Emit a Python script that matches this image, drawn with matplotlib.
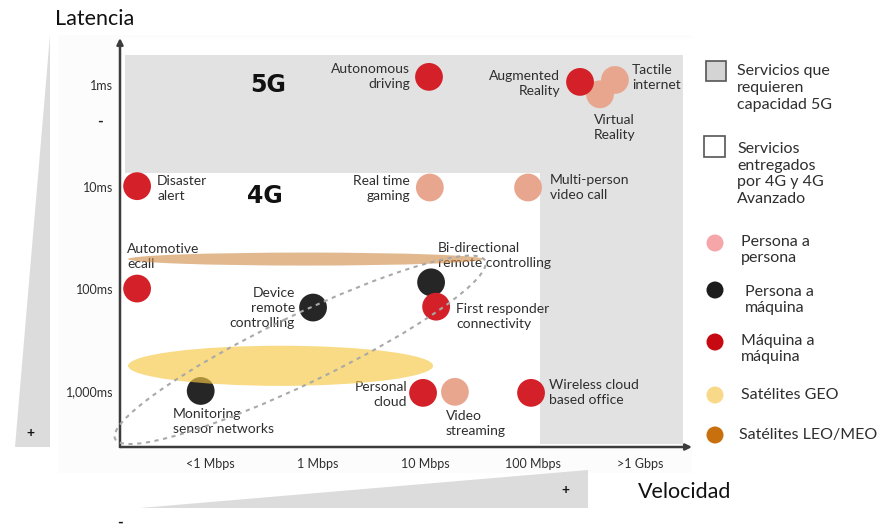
import matplotlib
matplotlib.use("Agg")
import matplotlib.pyplot as plt
import numpy as np
from matplotlib.patches import Ellipse, Polygon, Rectangle, Circle
from matplotlib.ticker import NullLocator

plt.rcParams['font.family'] = ['Lato', 'DejaVu Sans']

# ---------------- data ----------------
services = ["Autonomous\ndriving", "Virtual\nReality", "Augmented\nReality", "Tactile\ninternet",
            "Disaster\nalert", "Real time\ngaming", "Multi-person\nvideo call",
            "Automotive\necall", "Device\nremote\ncontrolling", "Bi-directional\nremote controlling",
            "First responder\nconnectivity", "Monitoring\nsensor networks",
            "Personal\ncloud", "Video\nstreaming", "Wireless cloud\nbased office"]
speed_mbps = [10.9, 425, 277, 585, 0.021, 11.1, 91, 0.021, 0.91, 11.4, 12.7, 0.082, 9.6, 19, 97]
latency_ms = [0.83, 1.23, 0.93, 0.89, 9.8, 10.1, 10.1, 99, 152, 86, 149, 1000, 1044, 1020, 1044]
category = ["M2M", "P2P", "M2M", "P2P", "M2M", "P2P", "P2P", "M2M", "P2M", "P2M",
            "M2M", "P2M", "M2M", "P2P", "M2M"]

speed_ticks = [0.1, 1, 10, 100, 1000]
speed_labels = ["<1 Mbps", "1 Mbps", "10 Mbps", "100 Mbps", ">1 Gbps"]
latency_ticks = [1, 10, 100, 1000]
latency_labels = ["1ms", "10ms", "100ms", "1,000ms"]

# 5G-only region (grey): latency below threshold or speed above threshold
fiveg_speed_range = [0.0162, 2520]
fiveg_latency_range = [0.507, 3310]
fiveg_speed_threshold = 117
fiveg_latency_threshold = 7.2

# satellite bands (speed range Mbps, latency range ms)
geo_speed = [0.0173, 11.9]
geo_latency = [360, 891]
leo_speed = [0.0173, 34.7]
leo_latency = [43.9, 58.9]

# 4G envelope (log-space ellipse): centre speed/latency
env_center_speed = 0.69
env_center_latency = 395

legend_labels = ["Servicios que\nrequieren\ncapacidad 5G",
                 "Servicios\nentregados\npor 4G y 4G\nAvanzado",
                 "Persona a\npersona", "Persona a\nmáquina", "Máquina a\nmáquina",
                 "Satélites GEO", "Satélites LEO/MEO"]

# ---------------- styles ----------------
cat_color = {"M2M": "#D42129", "P2P": "#E9A68E", "P2M": "#262626"}
# label offsets in pixels (dx, dy) and alignment
label_layout = [(-19, 0, 'right'), (-6, -33, 'left'), (-20, -2, 'right'), (17, 2, 'left'),
                (20, -2, 'left'), (-20, -1, 'right'), (22, 0, 'left'),
                (-10, 32, 'left'), (-18, 0, 'right'), (7, 27, 'left'),
                (20, -10, 'left'), (-28, -31, 'left'),
                (-16, -2, 'right'), (-9, -32, 'left'), (18, 0, 'left')]
TXT = '#2e2e2e'

W, H = 886, 530
fig = plt.figure(figsize=(W / 100, H / 100), dpi=100)


def fr(x0, y0, x1, y1):
    return [x0 / W, 1 - y1 / H, (x1 - x0) / W, (y1 - y0) / H]


# background / decoration axes in pixel coordinates
bg = fig.add_axes([0, 0, 1, 1], zorder=0)
bg.set_xlim(0, W)
bg.set_ylim(H, 0)
bg.axis('off')

bg.add_patch(Rectangle((58, 35), 634, 438, fc='#fcfcfc', ec='none'))
bg.add_patch(Polygon([(50, 35), (50, 447), (15, 447)], closed=True, fc='#dcdcdc', ec='none'))
bg.add_patch(Polygon([(140, 508), (588, 470), (588, 508)], closed=True, fc='#dcdcdc', ec='none'))
bg.text(30, 433, "+", fontsize=10, ha='center', va='center', color='#111', fontweight='bold')
bg.text(565, 490, "+", fontsize=10, ha='center', va='center', color='#111', fontweight='bold')
bg.text(120, 523, "-", fontsize=11, ha='center', va='center', color='#111', fontweight='bold')
bg.text(55, 19, "Latencia", fontsize=15.5, ha='left', va='center', color='#111')
bg.text(638, 492, "Velocidad", fontsize=15.5, ha='left', va='center', color='#111')

# legend
bg.add_patch(Rectangle((706, 61), 20, 20, fc='#d4d4d4', ec='#555555', lw=1.2))
bg.add_patch(Rectangle((704, 136), 21, 21, fc='white', ec='#555555', lw=1.2))
leg_items = [("#F6A6A8", 243), ("#1c1c1c", 290), ("#C70A12", 342), ("#F8D98A", 395), ("#C8700E", 435)]
for col, yy in leg_items:
    bg.add_patch(Circle((715, yy), 8.5, fc=col, ec='none'))
leg_pos = [(737, 88), (737, 174), (741, 250), (745, 300), (741, 349), (741, 395), (739, 435)]
for lab, (xx, yy) in zip(legend_labels, leg_pos):
    bg.text(xx, yy, lab, fontsize=11.5, ha='left', va='center', color=TXT, linespacing=1.25)

# ---------------- main axes ----------------
pos = fr(120, 38, 692, 447)
ax = fig.add_axes(pos, zorder=1)
ax.set_facecolor('white')
ax.set_xscale('log')
ax.set_yscale('log')
ax.set_xlim(0.01456, 3048)
ax.set_ylim(3545, 0.345)
for s in ax.spines.values():
    s.set_visible(False)

# 5G region
xl, xr = fiveg_speed_range
yt, yb = fiveg_latency_range
ax.fill([xl, xr, xr, fiveg_speed_threshold, fiveg_speed_threshold, xl],
        [yt, yt, yb, yb, fiveg_latency_threshold, fiveg_latency_threshold],
        color='#e2e2e2', lw=0, zorder=0)

ax.set_xticks(speed_ticks, speed_labels)
ax.set_yticks(latency_ticks, latency_labels)
ax.xaxis.set_minor_locator(NullLocator())
ax.yaxis.set_minor_locator(NullLocator())
ax.tick_params(axis='x', length=0, labelsize=9, colors=TXT, pad=8)
ax.tick_params(axis='y', length=0, labelsize=9, colors=TXT, pad=5)
ax.annotate("-", xy=(0, 2.3), xycoords=('axes fraction', 'data'), xytext=(-20, 0),
            textcoords='offset pixels', ha='center', va='center', fontsize=11,
            color='#222', fontweight='bold', annotation_clip=False)

arrow = dict(arrowstyle='-|>', color='#3c3c3c', lw=1.8, mutation_scale=9, shrinkA=0, shrinkB=0)
ax.annotate('', xy=(0, 1), xytext=(0, 0), xycoords='axes fraction', arrowprops=arrow)
ax.annotate('', xy=(1, 0), xytext=(0, 0), xycoords='axes fraction', arrowprops=arrow)

ax.text(0.347, 1.0, "5G", fontsize=17, fontweight='bold', family='DejaVu Sans',
        ha='center', va='center', color='#111')
ax.text(0.325, 12.3, "4G", fontsize=17, fontweight='bold', family='DejaVu Sans',
        ha='center', va='center', color='#111')

colors = [cat_color[c] for c in category]
ax.scatter(speed_mbps, latency_ms, s=400, c=colors, linewidths=0, zorder=3)
for name, sx, ly, (dx, dy, ha) in zip(services, speed_mbps, latency_ms, label_layout):
    ax.annotate(name, xy=(sx, ly), xytext=(dx, dy), textcoords='offset pixels',
                ha=ha, va='center', fontsize=10, color=TXT, linespacing=1.3, zorder=4)

# overlay axes (log10 units) for bands and envelope
ax2 = fig.add_axes(pos, zorder=2)
ax2.patch.set_alpha(0)
ax2.set_xlim(np.log10(0.01456), np.log10(3048))
ax2.set_ylim(np.log10(3545), np.log10(0.345))
ax2.axis('off')


def band(sp, lat, col, alpha):
    x0, x1 = np.log10(sp)
    y0, y1 = np.log10(lat)
    ax2.add_patch(Ellipse(((x0 + x1) / 2, (y0 + y1) / 2), x1 - x0, y1 - y0,
                          fc=col, ec='none', alpha=alpha))


band(leo_speed, leo_latency, '#CF8A45', 0.6)
band(geo_speed, geo_latency, '#F5C842', 0.65)
ax2.add_patch(Ellipse((np.log10(env_center_speed), np.log10(env_center_latency)), 3.86, 0.66,
                      angle=-27, fc='none', ec='#a9a9a9', lw=1.5, ls=(0, (2, 2.2)),
                      clip_on=False))

fig.savefig("out.png", dpi=100)
